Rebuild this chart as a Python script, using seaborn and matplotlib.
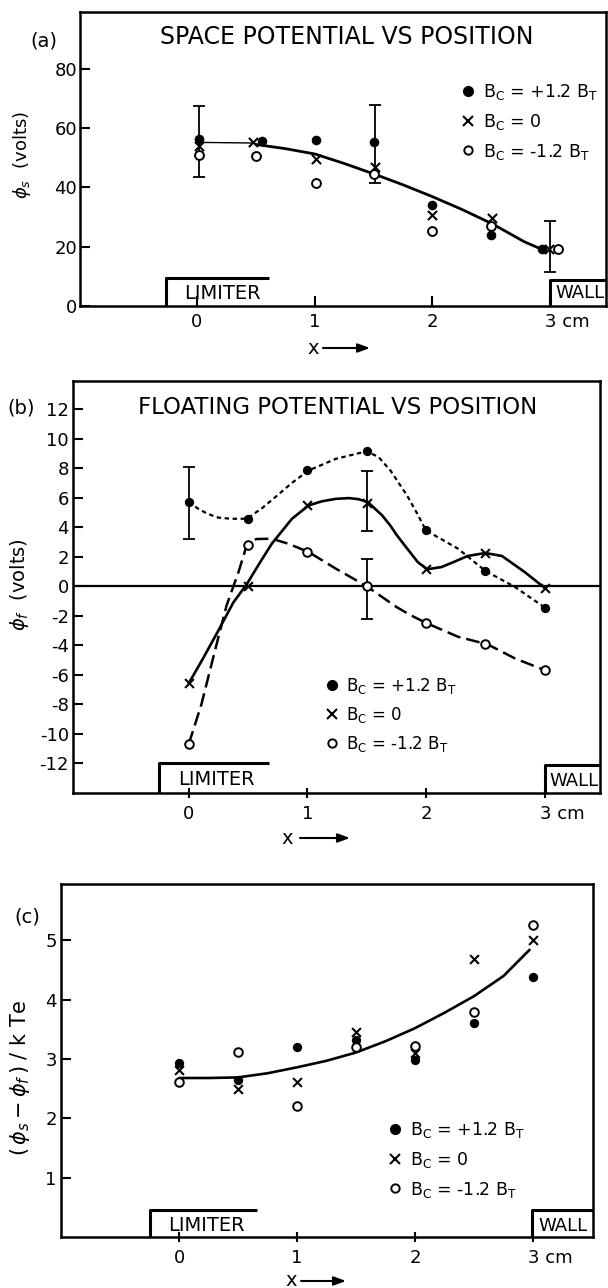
import matplotlib
matplotlib.use("Agg")
import matplotlib.pyplot as plt
import seaborn as sns
from matplotlib.lines import Line2D
from matplotlib.transforms import ScaledTranslation

# ---------------- data ----------------
xtick_vals = [0, 1, 2, 3]
xtick_labels = ["0", "1", "2", "3 cm"]
legend_labels = [r"B$_\mathregular{C}$ = +1.2 B$_\mathregular{T}$",
                 r"B$_\mathregular{C}$ = 0",
                 r"B$_\mathregular{C}$ = -1.2 B$_\mathregular{T}$"]

# (a) space potential
a_x_plus = [0.02, 0.55, 1.01, 1.5, 2.0, 2.5, 2.93]
a_plus = [56.5, 55.7, 56.0, 55.4, 34.2, 24.0, 19.2]
a_x_zero = [0.02, 0.48, 1.01, 1.51, 2.0, 2.51, 2.99]
a_zero = [54.0, 55.4, 49.5, 47.0, 30.8, 29.7, 19.2]
a_x_minus = [0.02, 0.5, 1.01, 1.5, 2.0, 2.5, 3.07]
a_minus = [50.8, 50.6, 41.6, 44.4, 25.2, 26.9, 19.2]
a_err_x = [0.02, 1.51, 3.0]
a_err_y = [55.5, 54.6, 20.1]
a_err = [11.9, 13.2, 8.5]
a_thin_x = [0.02, 0.47]
a_thin_y = [55.2, 55.0]
a_fit_x = [0.5, 0.75, 1.0, 1.25, 1.5, 1.75, 2.0, 2.25, 2.51, 2.78, 2.89, 2.94]
a_fit_y = [54.5, 53.1, 51.3, 48.1, 44.6, 40.9, 36.9, 32.6, 27.7, 21.7, 19.8, 19.2]
a_yticks = [0, 20, 40, 60, 80]

# (b) floating potential
b_x = [0, 0.5, 1, 1.5, 2, 2.5, 3]
b_plus = [5.7, 4.57, 7.84, 9.14, 3.78, 1.04, -1.44]
b_zero = [-6.58, 0.0, 5.47, 5.65, 1.15, 2.25, -0.11]
b_minus = [-10.7, 2.8, 2.32, 0.0, -2.52, -3.94, -5.68]
b_err_x = [0, 1.5, 1.5]
b_err_y = [5.63, 5.76, -0.16]
b_err = [2.43, 2.04, 2.03]
b_plus_cx = [0, 0.08, 0.16, 0.25, 0.36, 0.49, 0.62, 0.73, 0.87, 1.01, 1.24, 1.5, 1.6, 1.70, 1.84, 1.92, 2.0, 2.27, 2.5, 2.75, 3.0]
b_plus_cy = [5.7, 5.25, 4.9, 4.65, 4.57, 4.57, 5.3, 6.04, 7.0, 7.84, 8.63, 9.14, 8.75, 7.84, 6.15, 5.0, 3.78, 2.54, 1.04, -0.05, -1.44]
b_zero_cx = [0, 0.12, 0.25, 0.376, 0.49, 0.6, 0.7, 0.87, 1.01, 1.12, 1.24, 1.35, 1.43, 1.51, 1.63, 1.70, 1.75, 1.82, 1.93, 2.01, 2.13, 2.25, 2.35, 2.5, 2.64, 2.83, 3.0]
b_zero_cy = [-6.58, -4.9, -3.0, -1.1, 0.15, 1.6, 2.88, 4.57, 5.47, 5.75, 5.92, 5.97, 5.9, 5.7, 4.8, 4.1, 3.5, 2.77, 1.64, 1.15, 1.3, 1.7, 2.05, 2.25, 2.05, 0.97, -0.11]
b_minus_cx = [0, 0.107, 0.22, 0.32, 0.42, 0.49, 0.57, 0.70, 0.84, 1.01, 1.24, 1.5, 1.75, 1.87, 2.01, 2.27, 2.52, 2.75, 3.0]
b_minus_cy = [-10.7, -8.0, -4.4, -1.28, 0.97, 2.8, 3.2, 3.22, 2.88, 2.32, 1.19, 0.0, -1.4, -1.96, -2.52, -3.42, -3.94, -4.89, -5.68]
b_yticks = [-12, -10, -8, -6, -4, -2, 0, 2, 4, 6, 8, 10, 12]

# (c) (phi_s - phi_f)/kTe
c_x = [0, 0.5, 1, 1.5, 2, 2.5, 3]
c_plus = [2.94, 2.64, 3.2, 3.32, 2.99, 3.6, 4.38]
c_zero = [2.81, 2.49, 2.62, 3.45, 3.1, 4.69, 5.0]
c_minus = [2.61, 3.12, 2.21, 3.2, 3.22, 3.8, 5.26]
c_fit_x = [0, 0.25, 0.5, 0.75, 1.0, 1.25, 1.5, 1.75, 2.0, 2.25, 2.5, 2.75, 2.97]
c_fit_y = [2.68, 2.68, 2.69, 2.76, 2.86, 2.97, 3.11, 3.30, 3.52, 3.78, 4.06, 4.40, 4.84]
c_yticks = [1, 2, 3, 4, 5]

# ---------------- style ----------------
sns.set_theme(style="white")
plt.rcParams["font.family"] = ["DejaVu Sans"]
plt.rcParams["mathtext.fontset"] = "dejavusans"
plt.rcParams["axes.unicode_minus"] = False
plt.rcParams["axes.linewidth"] = 1.8
plt.rcParams["axes.edgecolor"] = "black"
plt.rcParams["text.color"] = "black"
plt.rcParams["axes.labelcolor"] = "black"
plt.rcParams["xtick.color"] = "black"
plt.rcParams["ytick.color"] = "black"

W, H = 608, 1288
fig = plt.figure(figsize=(W / 100, H / 100), dpi=100)


def px_axes(l, r, t, b):
    return fig.add_axes([l / W, 1 - b / H, (r - l) / W, (b - t) / H])


def fx(x):
    return x / W


def fy(y):
    return 1 - y / H


def style_axes(ax, xlim, ylim, yticks, ypad, xdir):
    ax.set_xlim(*xlim)
    ax.set_ylim(*ylim)
    ax.set_xticks(xtick_vals)
    ax.set_xticklabels(xtick_labels)
    ax.set_yticks(yticks)
    ax.tick_params(axis="y", direction="in", length=7, width=1.5, pad=ypad,
                   labelsize=13, colors="black", left=True)
    ax.tick_params(axis="x", direction=xdir, length=7, width=1.5, pad=5,
                   labelsize=13, colors="black", bottom=True)
    for s in ax.spines.values():
        s.set_visible(True)
        s.set_linewidth(1.8)
        s.set_color("black")
    lbl = ax.get_xticklabels()[-1]
    lbl.set_horizontalalignment("left")
    lbl.set_transform(lbl.get_transform() + ScaledTranslation(-5 / 100, 0, fig.dpi_scale_trans))


def boxes(ax, ybase, lim_x0, lim_x1, lim_top, lim_tx, lim_ty, wall_x0, wall_top, wall_tx, wall_ty):
    xr = ax.get_xlim()[1]
    ax.plot([lim_x0, lim_x0, lim_x1], [ybase, lim_top, lim_top], color="black", lw=2.2,
            solid_capstyle="butt", clip_on=False, zorder=2)
    ax.plot([wall_x0, wall_x0, xr], [ybase, wall_top, wall_top], color="black", lw=2.2,
            solid_capstyle="butt", clip_on=False, zorder=2)
    ax.text(lim_tx, lim_ty, "LIMITER", ha="center", va="center", fontsize=14)
    ax.text(wall_tx, wall_ty, "WALL", ha="center", va="center", fontsize=13)


def legend(ax, mx, cy, fs, spacing):
    handles = [Line2D([], [], marker="o", color="black", linestyle="none", markersize=7),
               Line2D([], [], marker="x", color="black", linestyle="none", markersize=6.5,
                      markeredgewidth=1.5),
               Line2D([], [], marker="o", markerfacecolor="white", markeredgecolor="black",
                      linestyle="none", markersize=6, markeredgewidth=1.4)]
    fpx = fs * 100 / 72
    ax.legend(handles, legend_labels, loc="center left",
              bbox_to_anchor=(fx(mx - 0.4 * fpx), fy(cy)), bbox_transform=fig.transFigure,
              frameon=False, fontsize=fs, handlelength=0.8, handletextpad=0.45,
              borderpad=0, borderaxespad=0, labelspacing=spacing)


def markers(ax, xp, yp, xz, yz, xm, ym, s=45):
    sns.scatterplot(x=xp, y=yp, ax=ax, marker="o", color="black", s=s, linewidth=0, zorder=5)
    sns.scatterplot(x=xz, y=yz, ax=ax, marker="x", color="black", s=s * 0.9, linewidth=1.5, zorder=5)
    sns.scatterplot(x=xm, y=ym, ax=ax, marker="o", color="white", edgecolor="black",
                    s=s * 0.85, linewidth=1.4, zorder=5)


def xlabel_arrow(ax, xx, y, ax0, ax1):
    ax.set_xlabel("x", fontsize=14)
    ax.xaxis.set_label_coords(fx(xx), fy(y), transform=fig.transFigure)
    ax.xaxis.label.set_va("center")
    ax.annotate("", xy=(ax1, H - y), xytext=(ax0, H - y), xycoords="figure pixels",
                textcoords="figure pixels",
                arrowprops=dict(arrowstyle="-|>,head_length=0.6,head_width=0.22", lw=1.5,
                                color="black", shrinkA=0, shrinkB=0))


def ylabel(ax, text, fs, xx, yy):
    ax.set_ylabel(text, fontsize=fs)
    ax.yaxis.set_label_coords(fx(xx), fy(yy), transform=fig.transFigure)
    ax.yaxis.label.set_va("center")
    ax.yaxis.label.set_ha("center")


# ---------------- panel (a) ----------------
axa = px_axes(80, 606, 12, 306)
sns.lineplot(x=a_thin_x, y=a_thin_y, ax=axa, color="black", lw=1.0, estimator=None, sort=False)
sns.lineplot(x=a_fit_x, y=a_fit_y, ax=axa, color="black", lw=2.0, estimator=None, sort=False)
axa.errorbar(a_err_x, a_err_y, yerr=a_err, fmt="none", ecolor="black", elinewidth=1.3,
             capsize=4, capthick=1.3, zorder=4)
markers(axa, a_x_plus, a_plus, a_x_zero, a_zero, a_x_minus, a_minus, s=48)
style_axes(axa, (-0.994, 3.475), (0, 99.2), a_yticks, 2, "in")
boxes(axa, 0, -0.26, 0.61, 9.6, 0.215, 4.3, 3.0, 8.8, 3.25, 4.3)
legend(axa, 468, 122, 12.5, 0.55)
ylabel(axa, r"$\phi_s$  (volts)", 13, 22, 155)
xlabel_arrow(axa, 313, 348, 323, 370)
fig.text(fx(347), fy(37), "SPACE POTENTIAL VS POSITION", ha="center", va="center", fontsize=17)
fig.text(fx(44), fy(41), "(a)", ha="center", va="center", fontsize=14)

# ---------------- panel (b) ----------------
axb = px_axes(73, 600, 381, 793)
axb.axhline(0, color="black", lw=1.6, zorder=1)
sns.lineplot(x=b_plus_cx, y=b_plus_cy, ax=axb, color="black", lw=1.6,
             linestyle=(0, (2.0, 1.6)), estimator=None, sort=False)
sns.lineplot(x=b_zero_cx, y=b_zero_cy, ax=axb, color="black", lw=1.9, estimator=None, sort=False)
sns.lineplot(x=b_minus_cx, y=b_minus_cy, ax=axb, color="black", lw=1.8,
             linestyle=(0, (5.5, 2.4)), estimator=None, sort=False)
axb.errorbar(b_err_x, b_err_y, yerr=b_err, fmt="none", ecolor="black", elinewidth=1.3,
             capsize=4, capthick=1.3, zorder=4)
markers(axb, b_x, b_plus, b_x, b_zero, b_x, b_minus, s=45)
style_axes(axb, (-0.975, 3.466), (-14, 13.9), b_yticks, 3, "inout")
boxes(axb, -14, -0.25, 0.68, -12.0, 0.235, -13.1, 3.0, -12.1, 3.245, -13.2)
legend(axb, 332, 715, 12, 0.55)
ylabel(axb, r"$\phi_f$  (volts)", 14, 20, 585)
xlabel_arrow(axb, 287, 838, 300, 350)
fig.text(fx(338), fy(408), "FLOATING POTENTIAL VS POSITION", ha="center", va="center", fontsize=16.5)
fig.text(fx(21), fy(408), "(b)", ha="center", va="center", fontsize=14)

# ---------------- panel (c) ----------------
axc = px_axes(61, 593, 884, 1237)
sns.lineplot(x=c_fit_x, y=c_fit_y, ax=axc, color="black", lw=1.9, estimator=None, sort=False)
markers(axc, c_x, c_plus, c_x, c_zero, c_x, c_minus, s=45)
style_axes(axc, (-1.0, 3.508), (0, 5.95), c_yticks, 3, "inout")
boxes(axc, 0, -0.246, 0.66, 0.46, 0.23, 0.19, 2.99, 0.46, 3.25, 0.19)
legend(axc, 395, 1160, 12.5, 0.55)
ylabel(axc, r"$(\,\phi_s - \phi_f\,)\ /\ $k Te", 15, 20, 1078)
xlabel_arrow(axc, 291, 1281, 301, 346)
fig.text(fx(27), fy(917), "(c)", ha="center", va="center", fontsize=14)

fig.savefig("out.png", dpi=100, facecolor="white")
